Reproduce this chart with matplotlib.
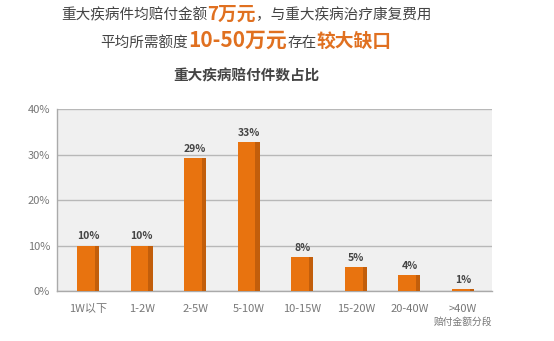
import matplotlib
matplotlib.use("Agg")
import matplotlib.pyplot as plt
from matplotlib.offsetbox import TextArea, HPacker, AnchoredOffsetbox

plt.rcParams['font.family'] = ['Noto Sans CJK SC', 'DejaVu Sans']

categories = ["1W以下", "1-2W", "2-5W", "5-10W", "10-15W", "15-20W", "20-40W", ">40W"]
values = [10.0, 10.0, 29.3, 32.8, 7.5, 5.3, 3.5, 0.4]
labels = ["10%", "10%", "29%", "33%", "8%", "5%", "4%", "1%"]
yticks = [0, 10, 20, 30, 40]
ytick_labels = ["0%", "10%", "20%", "30%", "40%"]

orange = "#E8730F"
dark = "#C25E0B"

fig = plt.figure(figsize=(5.54, 3.41), dpi=100)
fig.patch.set_facecolor("white")
ax = fig.add_axes([0.1029, 0.1466, 0.785, 0.5334])
ax.set_facecolor("#F0F0F0")

x = list(range(len(categories)))
w = 0.41
ax.bar(x, values, width=w, color=orange, zorder=3)
# darker right edge strip
ax.bar([xi + w / 2 - 0.04 for xi in x], values, width=0.08, color=dark, zorder=4)

for xi, v, lab in zip(x, values, labels):
    ax.text(xi, v + 0.9, lab, ha="center", va="bottom", fontsize=7.5,
            fontweight="bold", color="#444444", zorder=5)

ax.set_xlim(-0.58, 7.54)
ax.set_ylim(0, 40)
ax.set_yticks(yticks)
ax.set_yticklabels(ytick_labels)
ax.set_xticks(x)
ax.set_xticklabels(categories)
ax.tick_params(axis="both", length=0, labelsize=8, labelcolor="#777777")
ax.tick_params(axis="x", pad=9)
ax.tick_params(axis="y", pad=5)
ax.grid(axis="y", color="#B8B8B8", linewidth=1.0, zorder=1)
for s in ["top", "right"]:
    ax.spines[s].set_visible(False)
for s in ["left", "bottom"]:
    ax.spines[s].set_color("#AAAAAA")
    ax.spines[s].set_linewidth(1.0)

fig.text(463 / 554, 1 - 322 / 341, "赔付金额分段", ha="center", va="center",
         fontsize=7, color="#777777")

# Title lines with mixed colours
def line(parts, ycenter):
    boxes = [TextArea(t, textprops=dict(fontsize=fs, color=c, fontweight=fw))
             for t, fs, c, fw in parts]
    pack = HPacker(children=boxes, align="baseline", pad=0, sep=0)
    ab = AnchoredOffsetbox(loc="center", child=pack, frameon=False,
                           bbox_to_anchor=(246 / 554, 1 - ycenter / 341),
                           bbox_transform=fig.transFigure, pad=0, borderpad=0)
    fig.add_artist(ab)

g = "#444444"
o = "#E07020"
line([("重大疾病件均赔付金额", 10.5, g, "normal"),
      ("7万元", 13.5, o, "bold"),
      ("，与重大疾病治疗康复费用", 10.5, g, "normal")], 14)
line([("平均所需额度", 10.5, g, "normal"),
      ("10-50万元", 15, o, "bold"),
      ("存在", 10.5, g, "normal"),
      ("较大缺口", 13.5, o, "bold")], 40)

fig.text(246 / 554, 1 - 76 / 341, "重大疾病赔付件数占比", ha="center", va="center",
         fontsize=10.5, fontweight="bold", color="#444444")

fig.savefig("out.png", dpi=100, facecolor="white")
